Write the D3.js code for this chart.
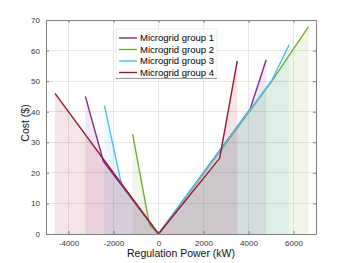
<!DOCTYPE html>
<html>
<head>
<meta charset="utf-8">
<script src="https://cdn.jsdelivr.net/npm/d3@7"></script>
<style>
  html, body { margin: 0; padding: 0; background: #fff; }
  svg { display: block; font-family: "Liberation Sans", Arial, Helvetica, sans-serif; }
</style>
</head>
<body>
<svg id="chart" width="350" height="263"></svg>
<script>
// ---- data ----
const seriesNames = ["Microgrid group 1", "Microgrid group 2", "Microgrid group 3", "Microgrid group 4"];
const seriesColors = ["#7E2F8E", "#77AC30", "#4DBEEE", "#A2142F"];
const group1Power = [-3250, -2450, 0, 4070, 4787];
const group1Cost  = [45.0, 23.8, 0, 40.8, 57.0];
const group2Power = [-1150, -400, 0, 2720, 5030, 6667];
const group2Cost  = [32.7, 3.0, 0, 26.9, 49.9, 67.8];
const group3Power = [-2400, -1650, 0, 5030, 5809];
const group3Cost  = [42.0, 16.4, 0, 50.2, 62.0];
const group4Power = [-4600, 0, 2720, 3500];
const group4Cost  = [46.0, 0, 24.8, 56.6];
const xTicks = [-4000, -2000, 0, 2000, 4000, 6000];
const xTickLabels = ["-4000", "-2000", "0", "2000", "4000", "6000"];
const yTicks = [0, 10, 20, 30, 40, 50, 60, 70];
const yTickLabels = ["0", "10", "20", "30", "40", "50", "60", "70"];

const allPower = [group1Power, group2Power, group3Power, group4Power];
const allCost = [group1Cost, group2Cost, group3Cost, group4Cost];
const series = seriesNames.map((n, i) => ({
  name: n, color: seriesColors[i],
  pts: allPower[i].map((p, j) => ({ x: p, y: allCost[i][j] }))
}));

// ---- layout ----
const svg = d3.select("#chart");
const m = { left: 46, top: 20, right: 34, bottom: 29 };
const W = 350 - m.left - m.right, H = 263 - m.top - m.bottom;
const g = svg.append("g").attr("transform", `translate(${m.left},${m.top})`);

const x = d3.scaleLinear().domain([-5000, 7000]).range([0, W]);
const y = d3.scaleLinear().domain([0, 70]).range([H, 0]);

// grid
g.append("g").selectAll("line").data(xTicks).join("line")
  .attr("x1", d => x(d)).attr("x2", d => x(d)).attr("y1", 0).attr("y2", H)
  .attr("stroke", "#e6e6e6").attr("stroke-width", 1).attr("shape-rendering", "crispEdges");
g.append("g").selectAll("line").data(yTicks.slice(1, -1)).join("line")
  .attr("y1", d => y(d)).attr("y2", d => y(d)).attr("x1", 0).attr("x2", W)
  .attr("stroke", "#e6e6e6").attr("stroke-width", 1).attr("shape-rendering", "crispEdges");

// fills
const area = d3.area().x(d => x(d.x)).y0(y(0)).y1(d => y(d.y));
g.append("g").selectAll("path").data(series).join("path")
  .attr("d", d => area(d.pts)).attr("fill", d => d.color).attr("fill-opacity", 0.11);

// lines
const line = d3.line().x(d => x(d.x)).y(d => y(d.y));
g.append("g").selectAll("path").data(series).join("path")
  .attr("d", d => line(d.pts)).attr("fill", "none")
  .attr("stroke", d => d.color).attr("stroke-width", 1.4).attr("stroke-linejoin", "round");

// axes (box with inward ticks)
const axisColor = "#808080";
const xAxis = d3.axisBottom(x).tickValues(xTicks).tickFormat((d, i) => xTickLabels[i]).tickSizeInner(-3).tickSizeOuter(0).tickPadding(6);
const yAxis = d3.axisLeft(y).tickValues(yTicks).tickFormat((d, i) => yTickLabels[i]).tickSizeInner(-3).tickSizeOuter(0).tickPadding(6);
const xAxisTop = d3.axisTop(x).tickValues(xTicks).tickFormat("").tickSizeInner(-3).tickSizeOuter(0);
const yAxisRight = d3.axisRight(y).tickValues(yTicks).tickFormat("").tickSizeInner(-3).tickSizeOuter(0);

function styleAxis(sel) {
  sel.selectAll("path").attr("stroke", axisColor);
  sel.selectAll("line").attr("stroke", axisColor);
  sel.selectAll("text").attr("fill", "#333").attr("font-size", "8px")
    .attr("font-family", "'Liberation Sans', Arial, sans-serif");
}
g.append("g").attr("transform", `translate(0,${H})`).call(xAxis).call(styleAxis);
g.append("g").call(yAxis).call(styleAxis);
g.append("g").call(xAxisTop).call(styleAxis);
g.append("g").attr("transform", `translate(${W},0)`).call(yAxisRight).call(styleAxis);

// axis labels
svg.append("text").attr("x", m.left + W / 2).attr("y", 257)
  .attr("text-anchor", "middle").attr("font-size", "10.5px").attr("fill", "#111")
  .text("Regulation Power (kW)");
svg.append("text").attr("transform", `translate(29,${m.top + H / 2 - 4}) rotate(-90)`)
  .attr("text-anchor", "middle").attr("font-size", "10.5px").attr("fill", "#111")
  .text("Cost ($)");

// legend
const lg = svg.append("g").attr("transform", "translate(116,29)");
lg.append("rect").attr("x", 0).attr("y", 0).attr("width", 101).attr("height", 49)
  .attr("fill", "#fff").attr("stroke", "#e8e8e8").attr("stroke-width", 0.8);
lg.append("line").attr("x1", 0).attr("x2", 101).attr("y1", 49.5).attr("y2", 49.5)
  .attr("stroke", "#999").attr("stroke-width", 1);
const rows = lg.selectAll("g.row").data(series).join("g").attr("class", "row")
  .attr("transform", (d, i) => `translate(0,${9 + i * 11.5})`);
rows.append("line").attr("x1", 3).attr("x2", 21).attr("y1", 0).attr("y2", 0)
  .attr("stroke", d => d.color).attr("stroke-width", 1.4);
rows.append("text").attr("x", 24).attr("y", 0).attr("dy", "0.35em")
  .attr("font-size", "9.5px").attr("fill", "#000").text(d => d.name);
</script>
</body>
</html>
